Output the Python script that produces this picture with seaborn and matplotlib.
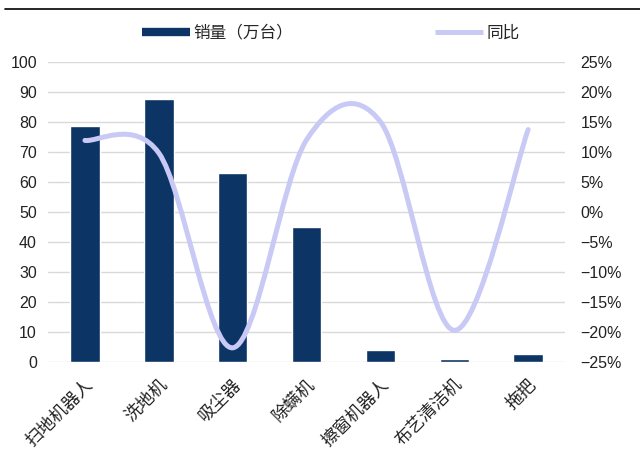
import matplotlib
matplotlib.use("Agg")
import matplotlib.pyplot as plt
import seaborn as sns
import pandas as pd
from matplotlib.path import Path
from matplotlib.patches import PathPatch
from matplotlib.lines import Line2D
from matplotlib.ticker import FuncFormatter

# 品类、销量（万台）与同比（%）
categories = ["扫地机器人", "洗地机", "吸尘器", "除螨机", "擦窗机器人", "布艺清洁机", "拖把"]
sales = [78.6, 87.6, 63.0, 44.9, 4.0, 1.1, 2.6]
yoy = [11.9, 9.8, -22.6, 12.0, 15.0, -19.7, 13.7]

left_ticks = list(range(0, 101, 10))
right_ticks = list(range(-25, 26, 5))

NAVY = "#0c3464"
LAVENDER = "#c9c9f5"
GRID = "#d9d9d9"

sns.set_theme(style="white")
plt.rcParams["font.family"] = ["Liberation Sans", "Noto Sans CJK SC"]
plt.rcParams["axes.unicode_minus"] = True

fig = plt.figure(figsize=(6.4, 4.5), dpi=100)
ax = fig.add_axes([0.075, 0.195, 0.808, 0.668])

df = pd.DataFrame({"品类": categories, "销量": sales})
sns.barplot(data=df, x="品类", y="销量", color=NAVY, width=0.4,
            saturation=1, ax=ax)

ax.set_ylim(0, 100)
ax.set_yticks(left_ticks)
ax.set_xlabel("")
ax.set_ylabel("")
ax.yaxis.grid(True, color=GRID, lw=1)
ax.set_axisbelow(True)
for s in ax.spines.values():
    s.set_visible(False)
ax.tick_params(axis="y", length=0, pad=8, labelsize=11.5, colors="#222222")
ax.tick_params(axis="x", length=0, pad=10, labelsize=12.5, colors="#222222")
for lab in ax.get_xticklabels():
    lab.set_rotation(45)
    lab.set_ha("right")
    lab.set_va("top")
    lab.set_rotation_mode("anchor")

# 同比：平滑曲线（贝塞尔段穿过每个数据点）
ax2 = ax.twinx()
ax2.set_ylim(-25, 25)
ax2.set_yticks(right_ticks)
ax2.yaxis.set_major_formatter(
    FuncFormatter(lambda v, _: f"{int(v)}%".replace("-", "\u2212")))
for s in ax2.spines.values():
    s.set_visible(False)
ax2.tick_params(axis="y", length=0, pad=11, labelsize=11.5, colors="#222222")
ax2.grid(False)

xs = list(range(len(yoy)))
pts = list(zip(xs, yoy))
n = len(pts)
verts = [pts[0]]
codes = [Path.MOVETO]
for i in range(n - 1):
    p0 = pts[max(i - 1, 0)]
    p1 = pts[i]
    p2 = pts[i + 1]
    p3 = pts[min(i + 2, n - 1)]
    c1 = (p1[0] + (p2[0] - p0[0]) / 6, p1[1] + (p2[1] - p0[1]) / 6)
    c2 = (p2[0] - (p3[0] - p1[0]) / 6, p2[1] - (p3[1] - p1[1]) / 6)
    verts += [c1, c2, p2]
    codes += [Path.CURVE4] * 3
curve = PathPatch(Path(verts, codes), facecolor="none", edgecolor=LAVENDER,
                  lw=3.6, capstyle="round", joinstyle="round")
ax2.add_patch(curve)
ax.set_xlim(-0.5, len(categories) - 0.5)

handles = [Line2D([], [], color=NAVY, lw=6, solid_capstyle="butt"),
           Line2D([], [], color=LAVENDER, lw=3.6, solid_capstyle="butt")]
fig.legend(handles, ["销量（万台）", "同比"], loc="center",
           bbox_to_anchor=(0.517, 0.927), ncol=2, frameon=False,
           fontsize=12, handlelength=2.9, columnspacing=8.5,
           handletextpad=0.2)

fig.add_artist(Line2D([0.008, 1.0], [0.98, 0.98], transform=fig.transFigure,
                      color="black", lw=1.2))

fig.savefig("out.png", dpi=100)
